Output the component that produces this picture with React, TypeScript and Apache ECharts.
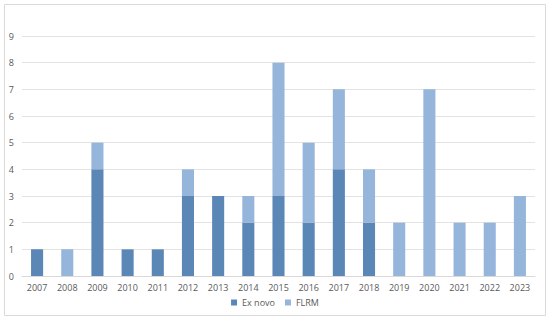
import React, { useEffect, useRef } from "react";
import * as echarts from "echarts";

const years = ["2007","2008","2009","2010","2011","2012","2013","2014","2015","2016","2017","2018","2019","2020","2021","2022","2023"];
const exNovo = [1, 0, 4, 1, 1, 3, 3, 2, 3, 2, 4, 2, 0, 0, 0, 0, 0];
const flrm = [0, 1, 1, 0, 0, 1, 0, 1, 5, 3, 3, 2, 2, 7, 2, 2, 3];

export default function App() {
  const ref = useRef<HTMLDivElement>(null);
  useEffect(() => {
    const chart = echarts.init(ref.current!, null, { renderer: "svg" });
    const font = "Open Sans";
    chart.setOption({
      animation: false,
      backgroundColor: "#ffffff",
      graphic: [
        {
          type: "rect",
          shape: { x: 4.5, y: 4.5, width: 541, height: 311 },
          style: { fill: "none", stroke: "#d9d9d9", lineWidth: 1 },
          silent: true,
        },
      ],
      grid: { left: 22, right: 15, top: 36, bottom: 45 },
      legend: {
        top: 298,
        left: "center",
        padding: 0,
        itemWidth: 6,
        itemHeight: 6,
        itemGap: 10,
        icon: "rect",
        textStyle: { fontFamily: font, fontSize: 9, color: "#595959" },
        data: ["Ex novo", "FLRM"],
      },
      xAxis: {
        type: "category",
        data: years,
        axisLine: { lineStyle: { color: "#d9d9d9" } },
        axisTick: { show: false },
        axisLabel: { fontFamily: font, fontSize: 9, color: "#595959", margin: 7 },
      },
      yAxis: {
        type: "value",
        min: 0,
        max: 9,
        interval: 1,
        axisLine: { show: false },
        axisTick: { show: false },
        splitLine: { lineStyle: { color: "#e3e3e3" } },
        axisLabel: { fontFamily: font, fontSize: 9, color: "#595959", margin: 8 },
      },
      series: [
        {
          name: "Ex novo",
          type: "bar",
          stack: "a",
          data: exNovo,
          barWidth: "40%",
          itemStyle: { color: "#5a87b6" },
        },
        {
          name: "FLRM",
          type: "bar",
          stack: "a",
          data: flrm,
          barWidth: "40%",
          itemStyle: { color: "#96b5db" },
        },
      ],
    });
    return () => chart.dispose();
  }, []);
  return <div ref={ref} style={{ position: "fixed", left: 0, top: 0, width: 550, height: 321 }} />;
}
